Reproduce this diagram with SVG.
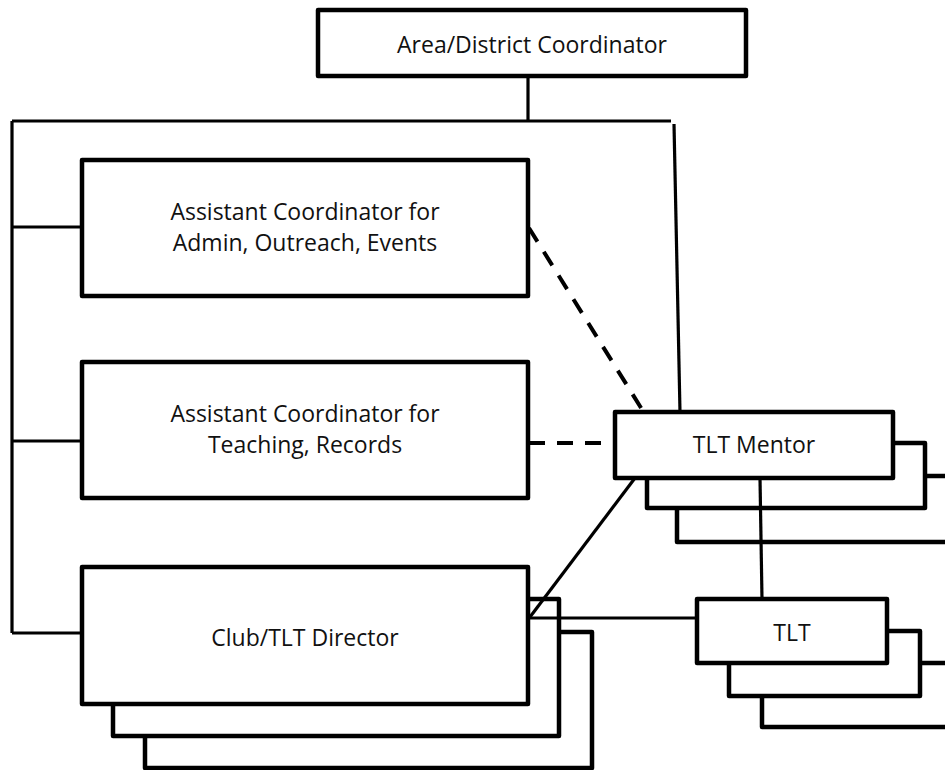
<svg xmlns="http://www.w3.org/2000/svg" width="945" height="770" viewBox="0 0 945 770">
<style>
.box{fill:#fff;stroke:#000;stroke-width:4.5;stroke-linejoin:round}
.ln{fill:none;stroke:#000;stroke-width:3.2;stroke-linejoin:round}
.dash{fill:none;stroke:#000;stroke-width:4;stroke-dasharray:16 12}
text{font-family:"Open Sans","Noto Sans",sans-serif;font-size:23px;fill:#111;text-anchor:middle}
</style>
<rect width="945" height="770" fill="#fff"/>
<g id="area-coordinator">
<rect class="box" x="318" y="10" width="428" height="66"/>
<text x="532" y="53">Area/District Coordinator</text>
</g>
<g id="asst-admin">
<rect class="box" x="82" y="160" width="446" height="136"/>
<text x="305" y="220">Assistant Coordinator for</text>
<text x="305" y="251">Admin, Outreach, Events</text>
</g>
<g id="asst-teaching">
<rect class="box" x="82" y="362" width="446" height="136"/>
<text x="305" y="422">Assistant Coordinator for</text>
<text x="305" y="453">Teaching, Records</text>
</g>
<g id="club-director">
<rect class="box" x="145" y="632" width="447" height="136"/>
<rect class="box" x="113" y="599" width="446" height="137"/>
<rect class="box" x="82" y="567" width="446" height="137"/>
<text x="305" y="646">Club/TLT Director</text>
</g>
<g id="tlt-mentor">
<rect class="box" x="677" y="476" width="280" height="66"/>
<rect class="box" x="647" y="443" width="278" height="65"/>
<rect class="box" x="615" y="412" width="278" height="66"/>
<text x="754" y="453">TLT Mentor</text>
</g>
<g id="tlt">
<rect class="box" x="762" y="663" width="195" height="64"/>
<rect class="box" x="729" y="631" width="191" height="65"/>
<rect class="box" x="697" y="599" width="190" height="64"/>
<text x="792" y="641">TLT</text>
</g>
<g id="connectors">
<path class="ln" d="M528 76 V121 M12 121 H671 M12 121 V633 M12 227 H82 M12 441 H82 M12 633 H82"/>
<path class="ln" d="M674 124 L680 412"/>
<path class="ln" d="M760 478 L762 599"/>
<path class="ln" d="M530 617 L635 478"/>
<path class="ln" d="M530 618 H697"/>
<path class="dash" d="M529 228 L643 411"/>
<path class="dash" d="M529 443 H614"/>
</g>
</svg>
